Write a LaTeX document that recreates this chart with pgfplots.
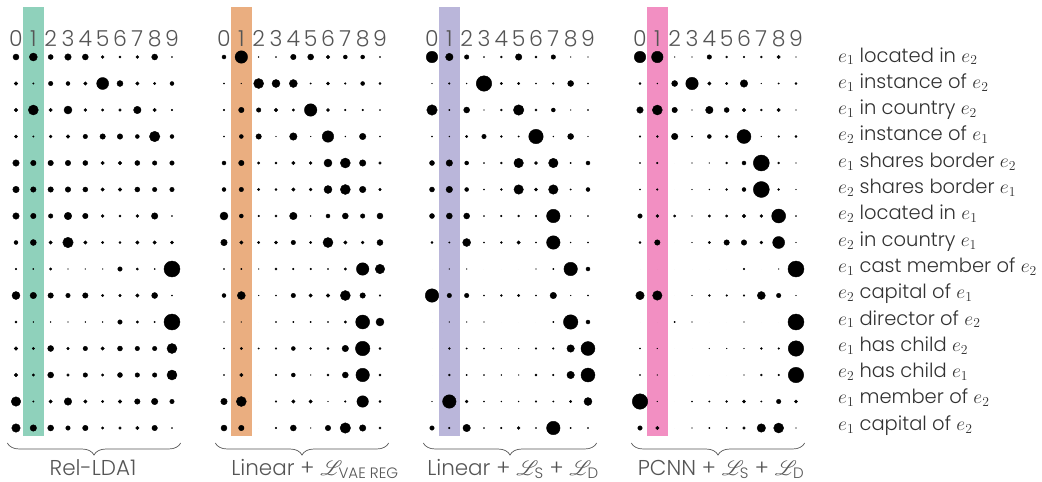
\RequirePackage{fix-cm}
\documentclass[border=0pt]{standalone}
\usepackage{amsmath}
\usepackage[no-math]{fontspec}
\IfFontExistsTF{Poppins Light}{\setmainfont{Poppins Light}}{\setmainfont{Poppins}}
\IfFileExists{mathrsfs.sty}{\usepackage{mathrsfs}}{\newcommand{\mathscr}{\mathcal}}
\usepackage{pgfplots}
\usepackage{pgfplotstable}
\pgfplotsset{compat=1.18}
\usetikzlibrary{decorations.pathreplacing}

\definecolor{cA}{RGB}{143,209,187}
\definecolor{cB}{RGB}{234,174,128}
\definecolor{cC}{RGB}{186,182,218}
\definecolor{cD}{RGB}{242,143,194}
\definecolor{numc}{RGB}{85,85,85}
\definecolor{labc}{RGB}{50,50,50}

% dot diameters (px) ; rows = relations, columns = clusters 0..9
\pgfplotstableread{
r c0 c1 c2 c3 c4 c5 c6 c7 c8 c9
1 6 8 5 6.5 6 3 2 3 6 1
2 3.5 1.5 4.5 4 3.5 12 6 3.5 2.5 4
3 3.5 10 3.5 8 3 2.5 2.5 7.5 3.5 1.5
4 3 1.5 3 3.5 4.5 5.5 5.5 4 10.5 4
5 6.5 5.5 5.5 5.5 5 3.5 3.5 5 4.5 4.5
6 6.5 5.5 5.5 5.5 5 3.5 3.5 5 4.5 4.5
7 6.5 5.5 4.5 7.5 5.5 3 2 3 6.5 1
8 4 6 3.5 10.5 3.5 2.5 2 3.5 3.5 3
9 1.5 1.2 2.5 0.7 0.7 0.7 4.5 2.3 1.2 16
10 8 6.5 5.5 4.5 5.5 2.5 2.5 3.5 6 1
11 2 1 1 0.7 1 1 4.5 2.5 1.5 16
12 3.5 2.5 6 2.5 4.5 3.5 5 4.5 4.5 10
13 3.5 2.5 6 2.5 4.5 2.5 5 4.5 4.5 10
14 9.5 1.5 3.5 7.5 3.5 2.5 3.5 5.5 6.5 4.5
15 8.5 6.5 6 4.5 5.5 2.5 2.5 3.5 5.5 1
}\tabA
\pgfplotstableread{
r c0 c1 c2 c3 c4 c5 c6 c7 c8 c9
1 4 12.5 1 1 5.5 6 3.5 4 4 1.3
2 1.3 0.7 10 8 8 1.3 3 1.7 4 2.3
3 1.7 5.5 4.5 3.5 2.5 12.5 3 1.7 1.7 1
4 1 4 5.5 0.7 7.5 0.7 11.5 1 6.5 1
5 4 5.5 2.5 2 3.5 3 8 10 6.5 2.5
6 4 4.5 2.5 2 3.5 3 8 10 6.5 2.5
7 8 4 1.7 2.3 7.5 1 4 6 4.5 6
8 6.5 3.5 2.5 3 4.5 2.3 10 3.5 3 6
9 1.3 1.3 0.7 2.3 1.7 1.7 1.3 2.5 12.5 9.5
10 4 8 0.7 1 4.5 3.5 3.5 10 5.5 1.7
11 0.7 0.7 0 1.3 1.3 1.3 1.3 2.5 14 8
12 1.3 2.5 1.3 1.7 4 2 2 6.5 14.5 2
13 1.3 3.5 0 1.7 4 0.7 2 6 13.5 2
14 6.5 10 0 1.7 3.5 3.5 0.7 1.7 11.5 2.3
15 6 5.5 0 1.7 6 0.7 5.5 10.5 6.5 2.3
}\tabB
\pgfplotstableread{
r c0 c1 c2 c3 c4 c5 c6 c7 c8 c9
1 11.5 7.5 4.5 1 2 6.5 2 4.5 0.7 0.7
2 0.7 1.7 1 15.5 2.3 2.3 1 1.7 6 1.3
3 10.5 1.3 6 0.7 2 10.5 2.3 4 0.7 1.3
4 1 1 2.5 4.5 2 1.3 14.5 1 6 0.7
5 5 6.5 4 1 2 9.5 3 9.5 1.3 4
6 5 6.5 4 1 2 9.5 3 9.5 1.3 4
7 5 6 6 1 1.7 2 1.7 13.5 1 1
8 2.3 1.3 8 1 2 3.5 1.3 13.5 1 1.3
9 0 0.7 0.7 0 0 0 0.7 1.3 13.5 4
10 13.5 4.5 4.5 1 2 2.5 1.3 6.5 0.7 1.3
11 0 0.7 0.7 0.7 0 0 0 1.3 14.5 4
12 0 2 1.3 1 0.7 0.7 1.7 1.7 7.5 14
13 0 2 1.3 1 1 0.7 2 1.7 7.5 14
14 0.7 13.5 3 1 1 1 1.7 1.3 2.5 8
15 4.5 1.7 7.5 1 1.7 3 1.3 13.5 1.3 1.3
}\tabC
\pgfplotstableread{
r c0 c1 c2 c3 c4 c5 c6 c7 c8 c9
1 11.5 11.5 0.7 0.7 4.5 2 1.7 2 3.5 0.7
2 2 1 6 12.5 3.5 2.3 7.5 0.7 1.3 2
3 6.5 10 5.5 0.7 7.5 5 3.5 2 3.5 0.7
4 1.7 2 6.5 1.3 4 3 14 0.7 1.7 2.3
5 1.3 1.7 0 0.7 0.7 2 4 16 2 0.7
6 1.3 1.7 0 0.7 1 2 4 16 2 0.7
7 4.5 3 2.3 0.7 2.5 2.3 3.5 3 14 1
8 2 5.5 0 0.7 2.3 5.5 5.5 3 12 0.7
9 0 0 0 0 0 0 1.7 0 0.7 16
10 8.5 9.5 0 0.7 2 1.7 1.7 8 4.5 0.7
11 0 0 1.3 0.7 0 0 0.7 0 0 16
12 1.3 0.7 0 0 0.7 0.7 0.7 2 1.7 15.5
13 1.3 0.7 0 0 0 0 0.7 2 1.7 15.5
14 15.5 0.7 0 1 1.3 2 3 1.3 4.5 3
15 4.5 3.5 0 0.7 1.3 1.3 2.5 8.5 10 0.7
}\tabD

\newcommand{\dotplots}[1]{%
  \pgfplotsinvokeforeach{0,...,9}{%
    \addplot[scatter, only marks, mark=*,
      scatter/use mapped color={draw=none, fill=black},
      visualization depends on={\thisrow{c##1}/2 \as \rad},
      scatter/@pre marker code/.append style={/tikz/mark size=\rad}]
      table[x expr=##1, y=r] {#1};
  }%
}
\newcommand{\collabels}{%
  \pgfplotsinvokeforeach{0,...,9}{%
    \node[anchor=base, inner sep=0pt, text=numc, font=\fontsize{22}{22}\selectfont]
      at (axis cs:##1,0.62) {##1};
  }%
}

\pgfplotsset{panel/.style={
  scale only axis, width=173.33pt, height=397.5pt,
  xmin=-0.5, xmax=9.5, ymin=0.5, ymax=15.5, y dir=reverse,
  axis line style={draw=none}, major tick length=0pt,
  xtick=\empty, ytick=\empty, clip=false, anchor=north west,
}}
\newcommand{\hlbar}[1]{%
    \fill[#1] (axis cs:0.4,-0.887) rectangle (axis cs:1.6,15.3);}
\newcommand{\pbrace}{%
  \draw[decorate, decoration={brace, mirror, amplitude=12pt}, numc, line width=0.7pt]
    (axis cs:-0.5,15.566) -- (axis cs:9.5,15.566);}

\begin{document}
\begin{tikzpicture}
\useasboundingbox (0,0) rectangle (1042pt,-482pt);
\begin{axis}[panel, at={(7.33pt,-43.75pt)}]
  \hlbar{cA}
  \collabels
  \dotplots{\tabA}
  \pbrace
\end{axis}
\begin{axis}[panel, at={(215.33pt,-43.75pt)}]
  \hlbar{cB}
  \collabels
  \dotplots{\tabB}
  \pbrace
\end{axis}
\begin{axis}[panel, at={(423.33pt,-43.75pt)}]
  \hlbar{cC}
  \collabels
  \dotplots{\tabC}
  \pbrace
\end{axis}
\begin{axis}[panel, at={(631.33pt,-43.75pt)}]
  \hlbar{cD}
  \collabels
  \dotplots{\tabD}
  \pbrace
\end{axis}

\begin{scope}[every node/.style={anchor=base, inner sep=0pt, text=numc, font=\fontsize{21.5}{22}\selectfont}]
\node at (93pt,-475pt) {Rel-LDA1};
\node at (315pt,-475pt) {Linear + $\mathscr{L}_{\text{VAE REG}}$};
\node at (513pt,-475pt) {Linear + $\mathscr{L}_{\text{S}}$ + $\mathscr{L}_{\text{D}}$};
\node at (721pt,-475pt) {PCNN + $\mathscr{L}_{\text{S}}$ + $\mathscr{L}_{\text{D}}$};
\end{scope}

\begin{scope}[every node/.style={anchor=base west, inner sep=0pt, text=labc, font=\fontsize{19.5}{20}\selectfont}]
\node at (838pt,-62pt) {$e_1$ located in $e_2$};
\node at (838pt,-88.3pt) {$e_1$ instance of $e_2$};
\node at (838pt,-114.6pt) {$e_1$ in country $e_2$};
\node at (838pt,-140.9pt) {$e_2$ instance of $e_1$};
\node at (838pt,-167.2pt) {$e_1$ shares border $e_2$};
\node at (838pt,-193.5pt) {$e_2$ shares border $e_1$};
\node at (838pt,-219.8pt) {$e_2$ located in $e_1$};
\node at (838pt,-246.1pt) {$e_2$ in country $e_1$};
\node at (838pt,-272.4pt) {$e_1$ cast member of $e_2$};
\node at (838pt,-298.7pt) {$e_2$ capital of $e_1$};
\node at (838pt,-325pt) {$e_1$ director of $e_2$};
\node at (838pt,-351.3pt) {$e_1$ has child $e_2$};
\node at (838pt,-377.6pt) {$e_2$ has child $e_1$};
\node at (838pt,-403.9pt) {$e_1$ member of $e_2$};
\node at (838pt,-430.2pt) {$e_1$ capital of $e_2$};
\end{scope}
\end{tikzpicture}
\end{document}
